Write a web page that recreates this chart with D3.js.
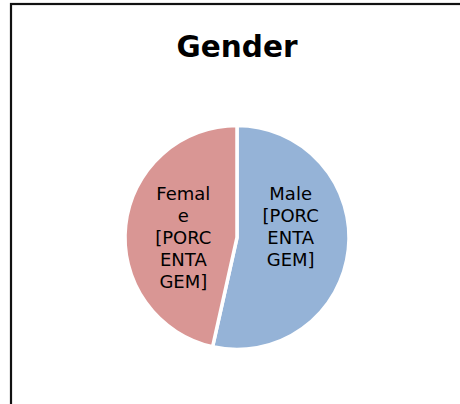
<!DOCTYPE html>
<html>
<head>
<meta charset="utf-8">
<script src="https://cdn.jsdelivr.net/npm/d3@7"></script>
<style>
  body { margin: 0; background: #fff; }
  svg { display: block; }
</style>
</head>
<body>
<svg width="460" height="404"></svg>
<script>
// data
const categories = ['Male', 'Female'];
const shares = [53.5, 46.5];
const labelSuffix = ['[PORCENTAGEM]', '[PORCENTAGEM]'];
const colors = ['#95B3D7', '#D99694'];

const width = 460;
const height = 404;
const cx = 237;
const cy = 237.5;
const radius = 112;

const svg = d3.select('svg');

// chart frame (continues past the right and bottom edge)
svg.append('rect')
  .attr('x', 11)
  .attr('y', 4)
  .attr('width', width + 10)
  .attr('height', height + 10)
  .attr('fill', '#fff')
  .attr('stroke', '#111')
  .attr('stroke-width', 2.2);

svg.append('text')
  .attr('x', cx)
  .attr('y', 57)
  .attr('text-anchor', 'middle')
  .style('font-family', 'DejaVu Sans, Verdana, sans-serif')
  .style('font-weight', 'bold')
  .style('font-size', '29.5px')
  .text('Gender');

const pie = d3.pie().sort(null).value(function (d) { return d; });
const arc = d3.arc().innerRadius(0).outerRadius(radius);
const labelArc = d3.arc().innerRadius(54).outerRadius(54);

const arcs = pie(shares);

const g = svg.append('g')
  .attr('transform', 'translate(' + cx + ',' + cy + ')');

g.selectAll('path')
  .data(arcs)
  .enter().append('path')
  .attr('d', arc)
  .attr('fill', function (d, i) { return colors[i]; })
  .attr('stroke', '#fff')
  .attr('stroke-width', 3.5);

// greedy wrap, breaking long words by character
function wrap(textSel, str, maxWidth) {
  const words = str.split(' ');
  const lines = [];
  const probe = textSel.append('tspan');
  const fits = function (s) { probe.text(s); return probe.node().getComputedTextLength() <= maxWidth; };
  let cur = '';
  words.forEach(function (w) {
    const trial = cur ? cur + ' ' + w : w;
    if (fits(trial)) { cur = trial; return; }
    if (cur) lines.push(cur);
    cur = '';
    let piece = '';
    for (const ch of w) {
      if (fits(piece + ch)) piece += ch;
      else { lines.push(piece); piece = ch; }
    }
    cur = piece;
  });
  if (cur) lines.push(cur);
  probe.remove();
  return lines;
}

const lineH = 22;

arcs.forEach(function (d, i) {
  const c = labelArc.centroid(d);
  const t = g.append('text')
    .attr('text-anchor', 'middle')
    .style('font-family', 'DejaVu Sans, Verdana, sans-serif')
    .style('font-size', '18px')
    .attr('fill', '#000');
  const lines = wrap(t, categories[i] + ' ' + labelSuffix[i], 60);
  lines.forEach(function (ln, k) {
    t.append('tspan')
      .attr('x', c[0])
      .attr('y', -37.5 + k * lineH)
      .text(ln);
  });
});
</script>
</body>
</html>
